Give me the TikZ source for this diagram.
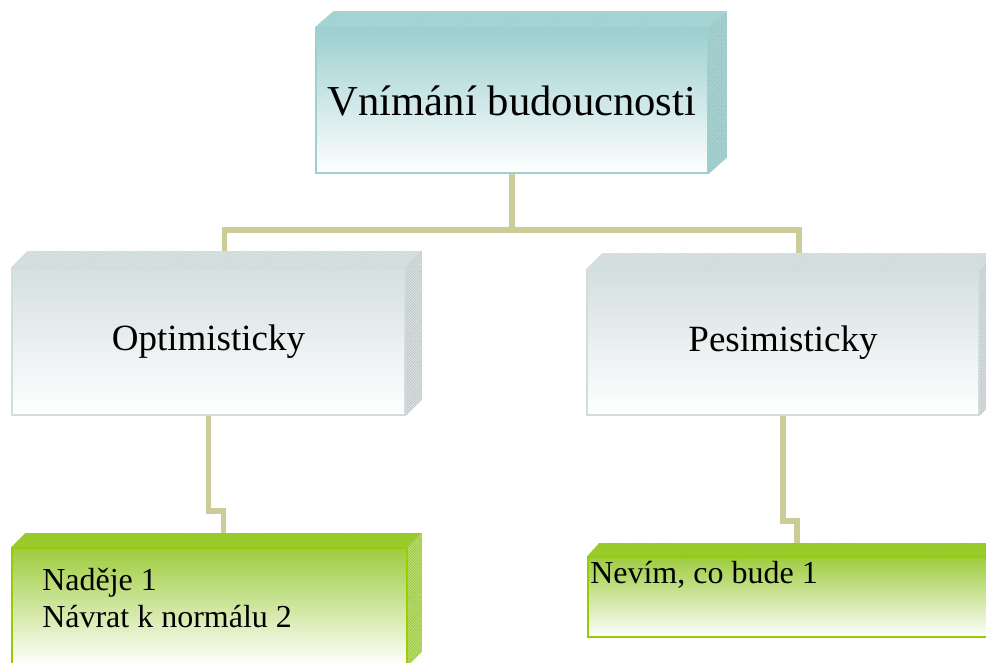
\documentclass[tikz,border=0pt]{standalone}
\usepackage{fontspec}
\setmainfont{Liberation Serif}
\usetikzlibrary{calc,patterns.meta}

% colours of the three box families
\definecolor{tealtop}{HTML}{9CCFCF}
\definecolor{tealmid}{HTML}{CDE7E7}
\definecolor{tealedge}{HTML}{9ED0D0}
\definecolor{teallid}{HTML}{A9D6D6}
\definecolor{tealside}{HTML}{B8DCDC}
\definecolor{tealmesh}{HTML}{86B8B8}
\definecolor{greytop}{HTML}{D4DFE0}
\definecolor{greymid}{HTML}{E6ECED}
\definecolor{greyedge}{HTML}{D2DDDE}
\definecolor{greylid}{HTML}{D8E2E3}
\definecolor{greyside}{HTML}{E4EAEA}
\definecolor{greymesh}{HTML}{AEB9BA}
\definecolor{greentop}{HTML}{9ECC3E}
\definecolor{greenmid}{HTML}{D3EAB6}
\definecolor{greenedge}{HTML}{99CC00}
\definecolor{greenlid}{HTML}{9ACC2E}
\definecolor{greenside}{HTML}{C4E38A}
\definecolor{greenmesh}{HTML}{8CBF14}
\definecolor{linkcol}{HTML}{CCCC99}

% top face and right face of a box whose front face is node #1
\newcommand\boxfaces[6]{%
  \fill[#4] (#1.north west) -- ++(#2,-#3) -- ($(#1.north east)+(#2,-#3)$)
            -- (#1.north east) -- cycle;
  \fill[pattern={Lines[angle=45,distance=1.6pt,line width=0.3pt]},pattern color=#6!35!#4]
            (#1.north west) -- ++(#2,-#3) -- ($(#1.north east)+(#2,-#3)$)
            -- (#1.north east) -- cycle;
  \fill[#5] (#1.north east) -- ++(#2,-#3) -- ($(#1.south east)+(#2,-#3)$)
            -- (#1.south east) -- cycle;
  \fill[pattern={Lines[angle=45,distance=1.4pt,line width=0.35pt]},pattern color=#6!75!#5]
            (#1.north east) -- ++(#2,-#3) -- ($(#1.south east)+(#2,-#3)$)
            -- (#1.south east) -- cycle;
  \fill[pattern={Lines[angle=-45,distance=1.4pt,line width=0.35pt]},pattern color=#6!75!#5]
            (#1.north east) -- ++(#2,-#3) -- ($(#1.south east)+(#2,-#3)$)
            -- (#1.south east) -- cycle;
}

\begin{document}
\begin{tikzpicture}[x=0.75pt,y=-0.75pt,
  front/.style={draw, line width=1.2pt, inner sep=0pt, text=black},
  tealbox/.style={front, draw=tealedge, top color=tealtop, middle color=tealmid, bottom color=white},
  greybox/.style={front, draw=greyedge, top color=greytop, middle color=greymid, bottom color=white},
  greenbox/.style={front, draw=greenedge, top color=greentop, middle color=greenmid, bottom color=white},
  link/.style={draw=linkcol, line width=4.2pt},
  leaftext/.style={anchor=base west, inner sep=0pt, font=\fontsize{24}{28}\selectfont}
]
\useasboundingbox (0,0) rectangle (986,663);

% front faces
\node[tealbox, minimum width=294pt, minimum height=108.75pt,
      font=\fontsize{32}{36}\selectfont] (root) at (512,100.5) {Vnímání budoucnosti};
\node[greybox, minimum width=294.75pt, minimum height=110.25pt,
      font=\fontsize{27.75}{32}\selectfont] (opt) at (208.5,341.5) {Optimisticky};
\node[greybox, minimum width=294pt, minimum height=108.75pt,
      font=\fontsize{27.75}{32}\selectfont] (pes) at (783,342.5) {Pesimisticky};
\node[greenbox, minimum width=296.25pt, minimum height=87.75pt] (hope) at (209.5,606.5) {};
\node[greenbox, minimum width=304.5pt, minimum height=60pt] (unk) at (791,597) {};

% depth faces
\boxfaces{root}{18}{16}{teallid}{tealside}{tealmesh}
\boxfaces{opt}{16}{16}{greylid}{greyside}{greymesh}
\boxfaces{pes}{16}{16}{greylid}{greyside}{greymesh}
\boxfaces{hope}{14}{14}{greenlid}{greenside}{greenmesh}
\boxfaces{unk}{12}{13}{greenlid}{greenside}{greenmesh}

% texts of the leaf boxes
\node[leaftext] (hope1) at (42,590) {Naděje 1};
\node[leaftext] (hope2) at (42,627) {Návrat k normálu 2};
\node[leaftext] (unk1) at (590,583) {Nevím, co bude 1};

% ends of the links on the top faces
\coordinate (optlid) at ($(opt.north)+(16,-16)$);
\coordinate (peslid) at ($(pes.north)+(16,-16)$);
\coordinate (hopelid) at ($(hope.north)+(14,-14)$);
\coordinate (unklid) at ($(unk.north)+(6,-13)$);
\coordinate (bus) at (512,230);

% links
\draw[link] (root.south) -- (bus);
\draw[link] (optlid) |- (bus) -| (peslid);
\draw[link] (opt.south) -- ++(0,95) -| (hopelid);
\draw[link] (pes.south) -- ++(0,105) -| (unklid);
\end{tikzpicture}
\end{document}
